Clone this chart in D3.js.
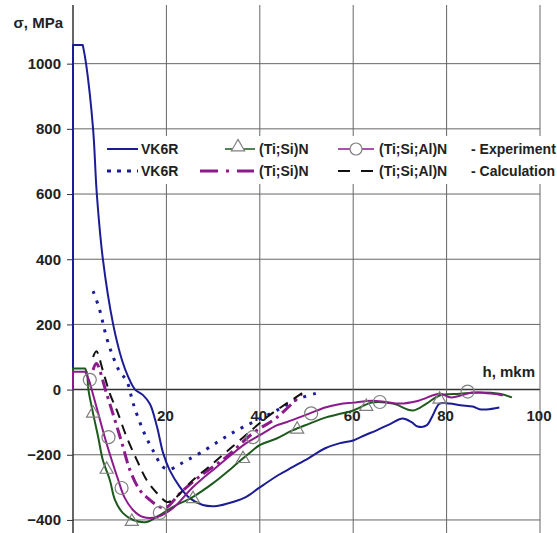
<!DOCTYPE html>
<html>
<head>
<meta charset="utf-8">
<script src="https://d3js.org/d3.v7.min.js"></script>
<style>
body { margin: 0; background: #fff; }
text { font-family: "Liberation Sans", Arial, sans-serif; font-weight: bold; fill: #222; }
</style>
</head>
<body>
<svg id="chart" width="557" height="533"></svg>
<script>
// data: depth h (mkm) and stress sigma (MPa)
var vk6rExpH = [0, 0, 2.1, 2.8, 4.3, 5.1, 6.4, 8.6, 10.5, 11.8, 13.3, 15, 16.5, 18, 19.3, 20.7, 22.9, 25, 27.8, 30.8, 34.2, 37, 40, 44, 47, 50.5, 54, 57, 60, 62.5, 65, 68, 70.6, 72.5, 73.8, 75.7, 77, 78.5, 80.6, 83, 85.6, 87, 88.6, 91.3];
var vk6rExpS = [0, 1057, 1057, 1000, 800, 600, 400, 200, 90, 40, 0, -17, -45, -115, -195, -247, -299, -333, -354, -357, -345, -330, -300, -262, -238, -210, -180, -165, -156, -140, -125, -105, -89, -100, -113, -110, -80, -43, -43, -48, -52, -60, -61, -55];

var vk6rCalcH = [4.3, 5.6, 7.2, 8.6, 10, 11.5, 12.9, 15, 17.1, 19.3, 20.7, 22.5, 24.4, 27.2, 30.7, 33.5, 36.4, 40, 43.6, 48, 52.4];
var vk6rCalcS = [302, 250, 159, 100, 55, 27, -43, -125, -186, -238, -245, -232, -217, -195, -163, -138, -115, -90, -64, -30, -10];

var tisiExpH = [0, 0, 2.6, 3, 3.3, 4.3, 5.4, 6.4, 7.9, 9, 10.7, 12.9, 15.8, 18, 21.4, 25.7, 30, 34.2, 38.5, 40, 43.6, 47, 50.5, 54, 57, 60, 64, 68.5, 72.8, 75.7, 78.5, 82.8, 87, 91.3, 94];
var tisiExpS = [0, 65, 65, 50, 0, -73, -146, -217, -278, -339, -379, -400, -406, -390, -360, -329, -287, -238, -186, -170, -150, -125, -105, -86, -75, -64, -40, -43, -64, -43, -18, -13, -9, -13, -24];
var tisiMarkH = [4.3, 7.2, 12.6, 25.7, 36.4, 48, 62.8, 78.5];
var tisiMarkS = [-73, -245, -405, -335, -212, -122, -52, -30];

var tisialExpH = [0, 0, 2.6, 3.4, 4, 5.4, 6.8, 8.3, 9.7, 11, 12.9, 15, 18, 21.4, 25.7, 30.7, 37, 40, 43.6, 45.7, 50.7, 54, 57, 60, 64, 67, 70, 74, 78.5, 81, 85.6, 90, 92];
var tisialExpS = [0, 55, 55, 30, 0, -73, -146, -217, -278, -330, -370, -391, -391, -364, -299, -238, -165, -140, -110, -100, -73, -55, -45, -40, -34, -38, -43, -34, -13, -24, -9, -13, -18];
var tisialMarkH = [3.6, 7.6, 10.4, 18.6, 38.5, 51, 65.7, 84.5];
var tisialMarkS = [30, -146, -302, -378, -146, -73, -38, -6];

var tisiCalcH = [4.3, 5, 7.2, 9, 10.5, 12.2, 14.3, 16.5, 18.6, 20, 22.9, 27, 32.8, 38.5, 43.6, 49];
var tisiCalcS = [60, 80, -13, -95, -165, -247, -308, -339, -360, -362, -318, -268, -207, -134, -86, -13];

var tisialCalcH = [4.3, 5, 6.4, 7.9, 9.4, 11.5, 13.7, 15.8, 18, 20.1, 21, 22.5, 25, 30, 35.7, 41.5, 46, 49.6];
var tisialCalcS = [100, 118, 58, -13, -64, -146, -217, -278, -318, -345, -342, -325, -287, -226, -156, -85, -40, -6];

var xTicks = [20, 40, 60, 80, 100];
var yTicks = [-400, -200, 0, 200, 400, 600, 800, 1000];

var blue = "#1c1c96", green = "#1e5a1e", purple = "#8c1a8c", black = "#111";

var svg = d3.select("#chart");
var x = d3.scaleLinear().domain([0, 100]).range([73, 540]);
var y = d3.scaleLinear().domain([-440, 1180]).range([533, 5]);

// grid
svg.append("g").selectAll("line").data(yTicks).enter().append("line")
  .attr("x1", x(0)).attr("x2", x(100))
  .attr("y1", function(d){ return y(d); }).attr("y2", function(d){ return y(d); })
  .attr("stroke", function(d){ return d === 0 ? "#333" : "#666"; })
  .attr("stroke-width", function(d){ return d === 0 ? 1.5 : 1; });
svg.append("g").selectAll("line").data(xTicks).enter().append("line")
  .attr("x1", function(d){ return x(d); }).attr("x2", function(d){ return x(d); })
  .attr("y1", y(1180)).attr("y2", y(-440))
  .attr("stroke", "#666").attr("stroke-width", 1);

// y axis
var yAxis = d3.axisLeft(y).tickValues(yTicks).tickFormat(d3.format("d")).tickSize(6).tickPadding(6);
var yg = svg.append("g").attr("transform", "translate(" + x(0) + ",0)").call(yAxis);
yg.select(".domain").remove();
yg.append("line").attr("x1", 0).attr("x2", 0).attr("y1", y(1180)).attr("y2", y(-440))
  .attr("stroke", "#333").attr("stroke-width", 1.5);
yg.selectAll(".tick line").attr("stroke", "#333");
yg.selectAll(".tick text").style("font-family", "Liberation Sans, Arial, sans-serif")
  .style("font-weight", "bold").style("font-size", "15px").attr("fill", "#222");

// x tick labels sit under the zero line
svg.append("g").selectAll("text").data(xTicks).enter().append("text")
  .attr("x", function(d){ return x(d) - 1; }).attr("y", y(0) + 31)
  .attr("text-anchor", "middle")
  .style("font-size", "15px")
  .text(function(d){ return d; });

svg.append("text").attr("x", 63).attr("y", 28).attr("text-anchor", "end")
  .style("font-size", "15px").text("σ, MPa");
svg.append("text").attr("x", 535).attr("y", 377).attr("text-anchor", "end")
  .style("font-size", "15px").text("h, mkm");

// legend background
svg.append("rect").attr("x", 100).attr("y", 136).attr("width", 457).attr("height", 48).attr("fill", "#fff");

function zip(hs, ss){ return hs.map(function(h, i){ return [h, ss[i]]; }); }
var smooth = d3.line().curve(d3.curveCatmullRom.alpha(0.5))
  .x(function(d){ return x(d[0]); }).y(function(d){ return y(d[1]); });
var straight = d3.line()
  .x(function(d){ return x(d[0]); }).y(function(d){ return y(d[1]); });

// measured curves start with a vertical rise and a plateau: draw those straight,
// so the spline does not swing out left of the axis
function curvePath(d){
  var p = d.pts;
  if (d.rise) return straight(p.slice(0, 3)) + smooth(p.slice(2)).replace(/^M/, "L");
  return smooth(p);
}

var series = [
  { pts: zip(vk6rCalcH, vk6rCalcS), color: blue, w: 3, dash: "3,7" },
  { pts: zip(tisiCalcH, tisiCalcS), color: purple, w: 3, dash: "12,5,3,5" },
  { pts: zip(tisialCalcH, tisialCalcS), color: black, w: 2, dash: "10,7" },
  { pts: zip(vk6rExpH, vk6rExpS), color: blue, w: 2, dash: null, rise: true },
  { pts: zip(tisiExpH, tisiExpS), color: green, w: 2, dash: null, rise: true },
  { pts: zip(tisialExpH, tisialExpS), color: purple, w: 2, dash: null, rise: true }
];
svg.append("g").selectAll("path").data(series).enter().append("path")
  .attr("d", curvePath)
  .attr("fill", "none")
  .attr("stroke", function(d){ return d.color; })
  .attr("stroke-width", function(d){ return d.w; })
  .attr("stroke-dasharray", function(d){ return d.dash; })
  .attr("stroke-linejoin", "round");

// markers
var tri = d3.symbol().type(d3.symbolTriangle).size(75);
svg.append("g").selectAll("path").data(zip(tisiMarkH, tisiMarkS)).enter().append("path")
  .attr("d", tri)
  .attr("transform", function(d){ return "translate(" + x(d[0]) + "," + y(d[1]) + ")"; })
  .attr("fill", "none").attr("stroke", "#808080").attr("stroke-width", 1.2);
svg.append("g").selectAll("circle").data(zip(tisialMarkH, tisialMarkS)).enter().append("circle")
  .attr("cx", function(d){ return x(d[0]); }).attr("cy", function(d){ return y(d[1]); })
  .attr("r", 6.5).attr("fill", "none").attr("stroke", "#808080").attr("stroke-width", 1.2);

// legend
var lg = svg.append("g").style("font-size", "14px");
function legLine(x1, x2, yy, color, w, dash){
  lg.append("line").attr("x1", x1).attr("x2", x2).attr("y1", yy).attr("y2", yy)
    .attr("stroke", color).attr("stroke-width", w).attr("stroke-dasharray", dash);
}
function legText(xx, yy, t){ lg.append("text").attr("x", xx).attr("y", yy + 5).text(t); }
var r1 = 149, r2 = 171;
legLine(107, 138, r1, blue, 2, null); legText(141, r1, "VK6R");
legLine(225, 255, r1, green, 1.5, null);
lg.append("path").attr("d", tri).attr("transform", "translate(238," + (r1 - 2) + ")")
  .attr("fill", "#fff").attr("stroke", "#808080").attr("stroke-width", 1.2);
legText(259, r1, "(Ti;Si)N");
legLine(338, 374, r1, purple, 1.5, null);
lg.append("circle").attr("cx", 356).attr("cy", r1).attr("r", 6).attr("fill", "#fff")
  .attr("stroke", "#808080").attr("stroke-width", 1.2);
legText(379, r1, "(Ti;Si;Al)N");
legText(471, r1, "- Experiment");

legLine(107, 138, r2, blue, 3, "4,6"); legText(141, r2, "VK6R");
legLine(200, 254, r2, purple, 3, "18,8,3,8"); legText(259, r2, "(Ti;Si)N");
legLine(338, 374, r2, black, 2, "12,11"); legText(379, r2, "(Ti;Si;Al)N");
legText(471, r2, "- Calculation");
</script>
</body>
</html>
